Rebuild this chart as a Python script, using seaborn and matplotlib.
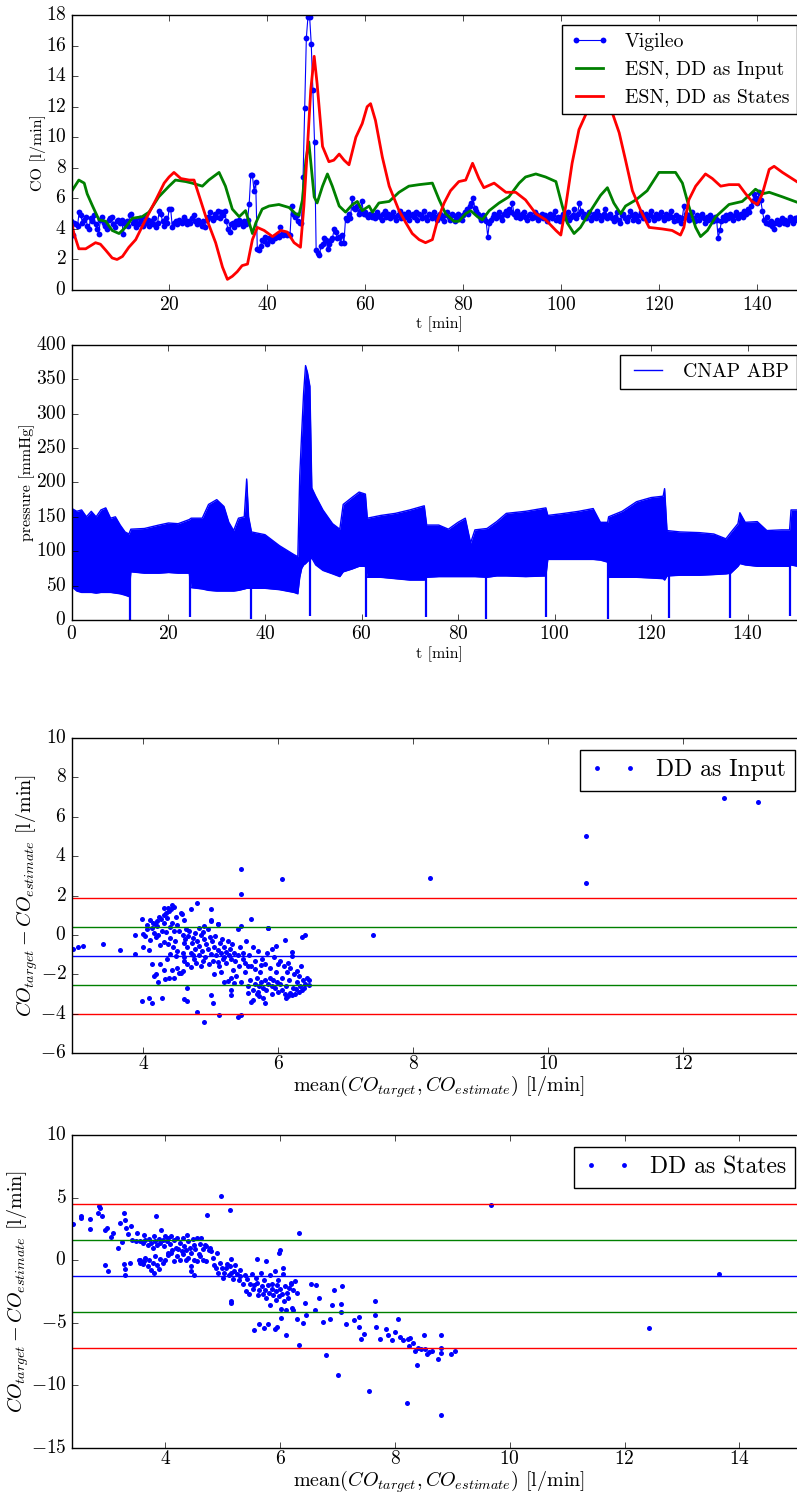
import numpy as np
import matplotlib
matplotlib.use("Agg")
import matplotlib.pyplot as plt
from matplotlib.lines import Line2D
import seaborn as sns

plt.style.use("classic")
plt.rcParams.update({
    "figure.facecolor": "white",
    "savefig.facecolor": "white",
    "font.family": "cmr10",
    "mathtext.fontset": "cm",
    "axes.formatter.use_mathtext": True,
    "xtick.labelsize": 14,
    "ytick.labelsize": 14,
    "legend.numpoints": 2,
})

# ---------------- cardiac output: Vigileo reference (one sample every 20 s) ----------------
VIG_STEP_MIN = 1.0 / 3.0
co_vig = [
    4.5, 3.6, 4.4, 4.3, 4.2, 5.1, 4.9, 4.4, 4.6, 4.8, 4.2, 4.0, 4.7, 4.5, 4.9, 4.3, 4.0, 3.7, 4.6, 4.8, 4.4, 4.2, 4.0, 4.6, 4.7, 4.8, 4.3, 4.1, 4.5, 4.6,
    4.4, 4.6, 3.7, 4.3, 4.5, 4.2, 4.9, 5.0, 4.4, 4.6, 4.1, 4.3, 4.7, 4.5, 4.2, 4.8, 4.4, 4.6, 4.2, 4.5, 4.3, 4.7, 4.1, 4.4, 5.2, 5.0, 4.5, 4.2, 4.7, 4.4,
    5.3, 5.3, 4.1, 4.4, 4.5, 4.3, 4.6, 4.5, 4.4, 4.8, 4.6, 4.3, 4.5, 4.4, 4.7, 4.9, 4.5, 4.3, 4.6, 4.4, 4.2, 4.5, 4.1, 4.6, 4.8, 5.1, 4.7, 4.6, 5.0, 4.8,
    5.2, 4.7, 5.1, 4.9, 5.2, 4.5, 4.0, 3.8, 4.3, 4.4, 4.1, 4.5, 4.3, 4.6, 4.4, 4.2, 4.5, 4.3, 4.6, 5.6, 7.5, 7.5, 6.5, 7.1, 2.7, 2.6, 2.9, 3.3, 3.2, 3.5,
    3.0, 3.4, 3.3, 3.2, 3.5, 3.4, 3.6, 3.5, 4.1, 3.7, 3.6, 3.7, 3.6, 3.7, 3.6, 5.5, 5.0, 4.8, 4.9, 4.5, 4.4, 4.4, 7.4, 11.9, 16.5, 17.9, 17.9, 16.1, 13.1, 9.7,
    2.6, 2.4, 2.3, 2.9, 3.0, 3.4, 3.3, 2.7, 3.0, 3.3, 3.4, 4.0, 3.8, 3.4, 3.5, 3.1, 3.6, 3.1, 4.7, 4.6, 5.0, 4.7, 6.0, 5.4, 5.3, 5.5, 5.0, 5.2, 5.8, 5.0,
    5.1, 4.9, 4.8, 5.0, 4.8, 4.9, 4.7, 5.1, 4.9, 4.8, 4.6, 5.0, 5.2, 4.8, 5.0, 4.7, 4.9, 5.1, 4.8, 4.6, 4.9, 5.2, 4.7, 4.9, 5.0, 4.8, 5.1, 4.6, 4.9, 5.0,
    4.8, 5.1, 4.6, 5.0, 4.9, 4.7, 5.2, 4.8, 4.6, 5.0, 4.9, 4.7, 5.1, 4.8, 4.6, 4.9, 5.0, 4.7, 4.5, 4.9, 5.1, 4.8, 4.6, 5.0, 4.9, 4.5, 4.7, 5.0, 4.8, 4.6,
    4.9, 5.1, 5.3, 5.0, 5.5, 5.7, 6.0, 5.4, 5.2, 5.0, 4.8, 4.6, 4.9, 4.7, 4.5, 3.5, 4.4, 4.6, 4.8, 5.0, 4.7, 4.9, 5.1, 4.8, 4.6, 5.0, 5.2, 4.9, 5.3, 5.1,
    5.7, 5.0, 4.8, 5.2, 4.9, 4.7, 5.0, 5.1, 4.8, 4.6, 4.9, 5.0, 4.7, 4.8, 5.1, 4.9, 4.6, 4.8, 5.0, 4.7, 4.9, 4.5, 4.8, 5.0, 4.7, 4.9, 5.2, 4.6, 4.8, 4.5,
    4.8, 5.0, 4.7, 4.9, 5.1, 4.6, 4.8, 4.9, 5.3, 4.7, 5.0, 5.7, 5.2, 4.8, 5.0, 4.7, 4.9, 5.1, 4.6, 4.8, 5.0, 4.7, 5.2, 4.9, 4.6, 4.8, 5.0, 5.3, 4.7, 4.9,
    5.0, 4.7, 4.5, 4.8, 5.1, 4.6, 4.4, 4.9, 5.0, 4.7, 4.5, 4.8, 5.2, 4.9, 4.6, 5.0, 4.8, 4.5, 4.9, 5.1, 4.7, 4.8, 5.0, 4.6, 4.9, 5.2, 4.8, 4.6, 5.0, 4.7,
    4.9, 5.1, 4.8, 4.6, 5.0, 4.7, 4.9, 5.2, 4.8, 4.5, 4.9, 4.6, 4.8, 4.4, 4.7, 5.5, 5.0, 4.8, 4.6, 4.9, 5.1, 4.7, 4.5, 4.9, 4.6, 4.8, 5.0, 4.7, 4.4, 4.8,
    4.6, 4.9, 4.7, 4.5, 4.8, 4.6, 3.4, 3.9, 4.5, 4.8, 4.6, 4.9, 4.7, 5.0, 4.8, 4.6, 4.9, 5.1, 4.7, 4.9, 5.0, 4.8, 5.2, 5.0, 5.3, 5.1, 5.5, 5.8, 6.3, 6.0,
    5.7, 6.4, 5.9, 5.2, 4.6, 4.4, 4.8, 4.3, 4.5, 4.2, 4.0, 4.4, 4.6, 4.3, 4.5, 4.7, 4.4, 4.6, 4.3, 4.5, 4.8, 4.6, 4.4, 4.7, 4.6, 4.8, 4.5, 4.7, 4.6, 4.7,
]
t_vig = np.arange(len(co_vig)) * VIG_STEP_MIN

# ---------------- ESN estimate, DD as input ----------------
t_esn_in = [0, 1.6, 2.7, 3.3, 4.4, 5.7, 7.1, 8.4, 9.8, 11.1, 12.5, 14.5, 15.9, 17.9, 20, 21.3,
            23.4, 24.7, 26.8, 28.1, 30.2, 31.5, 32.9, 34.3, 35.6, 37, 37.7, 39, 40.4, 42.4,
            44.5, 45.8, 46.5, 47.2, 47.9, 48.5, 49.6, 50.2, 51.3, 52.3, 53.3, 54.7, 56, 57.4,
            58.4, 59.4, 60.8, 61.5, 62.8, 64.9, 66.9, 68.9, 71, 73.7, 75.1, 76.4, 78.1, 79.1,
            80.5, 81.5, 82.9, 83.9, 85.3, 87.3, 89.3, 91.4, 92.7, 94.8, 96.8, 98.9, 100.2,
            101.2, 102.6, 103.9, 106, 108, 109.4, 110.7, 112.1, 113.1, 115.2, 117.5, 119.9,
            122, 123.3, 124.7, 126, 127.4, 128.4, 129.8, 131.5, 134.2, 136.9, 138.3, 139.6,
            141, 142.4, 145.1, 148.5]
co_esn_in = [6.4, 7.2, 7.0, 6.3, 5.5, 4.6, 4.5, 3.9, 3.7, 4.1, 4.7, 4.8, 5.1, 6.1, 6.8, 7.2,
             7.1, 7.0, 6.8, 7.2, 7.7, 6.8, 5.3, 4.8, 5.2, 3.7, 4.4, 5.3, 5.5, 5.6,
             5.4, 5.0, 4.9, 5.9, 8.5, 9.7, 6.1, 5.7, 6.8, 7.6, 6.8, 5.5, 5.1, 5.6,
             5.8, 5.2, 5.5, 5.1, 5.7, 5.8, 6.4, 6.8, 6.9, 7.0, 5.9, 5.0, 4.5, 4.5,
             5.0, 5.2, 4.8, 4.6, 5.2, 5.7, 6.1, 7.0, 7.4, 7.6, 7.4, 7.1, 5.5,
             4.4, 3.7, 4.1, 5.2, 6.2, 6.7, 5.7, 5.0, 5.5, 5.9, 6.5, 7.7,
             7.7, 7.7, 7.0, 5.5, 4.1, 3.5, 3.9, 4.8, 5.6, 5.8, 6.2, 6.6,
             6.3, 6.4, 6.1, 5.7]

# ---------------- ESN estimate, DD as states ----------------
t_esn_st = [0, 0.6, 1.6, 3, 5, 6, 7.1, 8.4, 9.4, 10.5, 11.8, 13.2, 15.2, 17.3, 19, 20, 21,
            22.4, 24.1, 25.1, 25.8, 27.5, 29.5, 30.9, 31.9, 32.9, 33.9, 34.9, 36, 37, 38,
            39.4, 41.1, 42.8, 44.1, 45.5, 46.8, 47.5, 48.2, 48.9, 49.6, 50.2, 51.3, 52.6,
            53.6, 54.7, 55.7, 56.7, 58.1, 59.4, 60.4, 61.1, 62.1, 63.5, 64.9, 66.9, 68.3,
            69.6, 71, 72.3, 73.7, 74.7, 76.1, 77.4, 79.1, 80.5, 81.9, 83.2, 84.2, 86.3,
            88.7, 90.7, 92.7, 94.8, 96.8, 98.9, 99.9, 100.9, 102.2, 103.6, 105, 106.7,
            108.4, 110.4, 111.8, 113.1, 114.5, 116.2, 117.9, 120.6, 122.6, 124.3, 125,
            126, 127.4, 129.4, 130.8, 132.5, 134.2, 136.2, 137.6, 138.9, 140, 141, 142.4,
            143.4, 145.1, 148.5]
co_esn_st = [4.6, 3.7, 2.7, 2.7, 3.1, 3.0, 2.6, 2.1, 2.0, 2.2, 2.8, 3.3, 4.6, 5.9, 7.0, 7.4, 7.7,
             7.3, 7.2, 7.2, 6.5, 4.8, 3.1, 1.5, 0.7, 0.9, 1.2, 1.6, 1.7, 3.3, 4.1,
             3.9, 3.5, 3.9, 3.8, 3.1, 2.8, 5.5, 9.2, 13.1, 15.3, 13.5, 9.4, 8.4,
             8.5, 8.9, 8.5, 8.2, 10.0, 10.9, 12.0, 12.2, 11.1, 8.7, 6.8, 5.2, 4.4,
             3.7, 3.3, 3.1, 3.3, 4.5, 5.7, 6.5, 7.1, 7.2, 8.3, 7.3, 6.7, 7.0,
             6.4, 6.4, 5.9, 5.0, 4.6, 3.9, 3.6, 5.5, 8.3, 10.5, 11.5, 12.1,
             12.4, 11.6, 10.3, 8.5, 6.5, 5.2, 4.1, 4.0, 3.9, 3.6, 4.1,
             5.9, 6.8, 7.6, 7.3, 6.8, 6.9, 6.9, 6.3, 5.8, 5.6, 6.3, 7.9,
             8.1, 7.7, 7.0]

# ---------------- CNAP arterial blood pressure: systolic / diastolic envelope ----------------
t_abp = [0, 1, 2, 3, 4, 5, 6, 7, 8, 9, 10, 11, 11.8, 12.2, 15, 18, 20, 22, 24.3, 24.7, 27,
         28.3, 30, 31.5, 32.5, 33.5, 34.5, 35.7, 36.2, 36.6, 37.2, 40, 43, 46, 46.8, 47.2,
         47.6, 48, 48.4, 48.8, 49.3, 49.7, 50.5, 52, 54, 55.5, 56.2, 58, 59.5, 60.8, 61.2,
         64, 67, 70, 73, 73.5, 76, 78, 80, 81.5, 82.6, 83.5, 86, 88, 90, 94, 98.2, 98.6,
         102, 105, 108, 109.5, 111, 111.2, 114, 117, 120, 122.5, 122.8, 123.3, 126, 130,
         133, 135.5, 136.5, 138, 138.4, 139.5, 142, 144, 147, 148.7, 149, 152.3]
sys_abp = [162, 158, 160, 150, 158, 150, 160, 163, 148, 150, 138, 128, 125, 132, 133, 138, 141, 140, 146, 148, 148,
           168, 175, 165, 142, 130, 148, 150, 205, 150, 128, 124, 108, 95, 92, 210,
           272, 330, 370, 360, 340, 192, 180, 160, 140, 132, 168, 178, 186, 183, 148,
           152, 155, 160, 166, 138, 138, 132, 142, 148, 112, 131, 133, 143, 155, 158, 163, 152,
           155, 158, 162, 142, 142, 150, 158, 172, 178, 180, 191, 130, 128, 127,
           125, 118, 127, 140, 156, 142, 143, 130, 131, 131, 160, 160]
dia_abp = [48, 42, 40, 40, 40, 39, 40, 40, 40, 39, 38, 36, 34, 70, 68, 68, 69, 68, 68, 47, 45,
           43, 42, 42, 42, 42, 43, 45, 46, 46, 46, 46, 44, 40, 38, 62,
           75, 80, 82, 85, 88, 90, 80, 72, 67, 63, 70, 74, 78, 78, 62,
           62, 60, 58, 58, 62, 63, 63, 63, 63, 63, 63, 62, 64, 64, 63, 64, 88,
           88, 88, 88, 87, 84, 62, 62, 62, 61, 60, 58, 64, 65, 65,
           66, 67, 68, 78, 82, 80, 78, 78, 78, 78, 80, 75]
# cuff calibration drop-outs
t_cal = [12.0, 24.5, 37.0, 49.3, 61.0, 73.3, 85.8, 98.3, 111.0, 123.7, 136.3, 148.8]
p_cal = [0, 4, 2, 6, 4, 4, 2, 4, 2, 3, 3, 5]

# ---------------- Bland-Altman: ESN with DD as input ----------------
pairs_input = [
    (2.95, -0.7), (3.03, -0.62), (3.1, -0.57), (3.4, -0.45), (3.65, -0.75), (3.88, 0.02), (3.88, -0.95),
    (3.98, -3.35), (4.08, -3.2), (4.12, -3.45), (4.28, -3.2),
    (3.98, 0.8), (4.0, -0.6), (4.0, 0.05), (4.03, -0.05), (4.05, 0.5), (4.06, 0.3), (4.08, -0.75), (4.1, 0.75),
    (4.1, -0.25), (4.12, 0.35), (4.14, 0.6), (4.15, 0.1), (4.17, 0.55), (4.18, -0.1), (4.2, 0.7), (4.2, 0.45),
    (4.22, 0.0), (4.23, 0.9), (4.25, -0.5), (4.26, 0.8), (4.28, 0.2), (4.3, 1.0), (4.3, 0.6), (4.31, -0.35),
    (4.33, 1.1), (4.34, 0.15), (4.35, 0.85), (4.36, -0.45), (4.38, 1.2), (4.4, 0.4), (4.4, -0.15), (4.41, 1.3),
    (4.43, 0.6), (4.44, -0.6), (4.45, 1.4), (4.46, 0.2), (4.47, -0.3), (4.48, 0.9), (4.5, 0.5), (4.5, -0.8),
    (4.31, 1.38), (4.36, 1.35), (4.42, 1.5),
    (4.12, -1.5), (4.15, -2.1), (4.18, -2.0), (4.22, -2.4), (4.3, -1.8), (4.32, -2.25), (4.38, -2.2), (4.42, -1.8),
    (4.45, -2.2), (4.5, -1.7), (4.52, -1.95), (4.55, -1.95), (4.58, -1.85), (4.6, -1.1), (4.48, -1.05),
    (4.4, -0.95), (4.35, -1.2), (4.25, -1.5),
    (4.52, 0.2), (4.55, 1.1), (4.57, 1.05), (4.58, 0.0), (4.6, -0.4), (4.6, 0.75), (4.62, -0.2), (4.63, 0.3),
    (4.65, -0.6), (4.66, -0.05), (4.68, 0.2), (4.7, -0.9), (4.7, 1.3), (4.72, -0.4), (4.73, -0.15), (4.75, -1.2),
    (4.76, -0.7), (4.77, 0.1), (4.78, -1.4), (4.8, -0.3), (4.8, 1.6), (4.82, -1.0), (4.83, -0.55), (4.85, -1.6),
    (4.85, 0.0), (4.87, -0.8), (4.88, -1.3), (4.9, -0.2), (4.9, 0.45), (4.92, -1.1), (4.93, -0.45), (4.95, -0.7),
    (4.95, 0.3), (4.97, -1.5), (4.98, -0.1), (5.0, 0.7), (5.0, -0.95), (5.0, 1.3), (4.65, -1.5), (4.7, -1.65),
    (4.74, -1.0), (4.6, -1.3), (4.58, -0.9), (4.83, 0.35), (4.88, 0.15),
    (5.02, -0.3), (5.03, -1.3), (5.05, -0.6), (5.06, -0.05), (5.08, -1.0), (5.1, 0.55), (5.1, -0.75), (5.12, -1.6),
    (5.13, -0.4), (5.15, -0.9), (5.16, -0.2), (5.18, -1.2), (5.2, -0.6), (5.2, -2.4), (5.22, -0.85), (5.23, -1.45),
    (5.25, -0.3), (5.25, -2.35), (5.27, -1.0), (5.28, -0.7), (5.3, -1.2), (5.3, -2.2), (5.32, -0.45), (5.33, -1.8),
    (5.35, -0.9), (5.36, -1.3), (5.38, -2.1), (5.4, -1.0), (5.4, 0.3), (5.42, -1.6), (5.43, -0.6), (5.45, -2.4),
    (5.45, 0.45), (5.47, -1.2), (5.48, -0.9), (5.5, -1.9), (5.5, -1.4), (5.05, -2.0), (5.15, -1.9), (5.35, -2.45),
    (5.1, -1.35), (5.2, -1.1),
    (5.52, -0.3), (5.55, -2.6), (5.56, -1.0), (5.58, -2.3), (5.6, -1.6), (5.6, 0.8), (5.62, -2.8), (5.63, -0.6),
    (5.65, -2.5), (5.66, -1.3), (5.68, -2.2), (5.7, -2.9), (5.7, -0.8), (5.72, -2.6), (5.73, -1.9), (5.75, -2.4),
    (5.76, -1.2), (5.78, -2.7), (5.8, -2.3), (5.8, -1.5), (5.82, -2.8), (5.83, -0.9), (5.85, -2.5), (5.85, 0.35),
    (5.87, -2.2), (5.88, -1.7), (5.9, -2.6), (5.9, -0.7), (5.92, -2.3), (5.93, -1.1), (5.95, -2.7), (5.96, -0.55),
    (5.97, -1.9), (5.98, -2.4), (6.0, -1.5), (6.0, -2.9), (5.55, -1.6), (5.65, -1.75), (5.75, -1.55), (5.68, -3.0),
    (5.72, -3.1), (5.78, -3.2), (5.62, -3.3),
    (6.02, -2.5), (6.03, -1.3), (6.05, -2.8), (6.06, -2.2), (6.08, -1.6), (6.1, -3.0), (6.1, -0.25), (6.12, -2.6),
    (6.13, -1.9), (6.15, -3.1), (6.16, -2.3), (6.18, -1.7), (6.2, -3.05), (6.2, -0.85), (6.2, -1.05), (6.22, -2.7),
    (6.24, -2.0), (6.25, -3.0), (6.27, -2.4), (6.28, -1.85), (6.3, -2.9), (6.3, -2.1), (6.32, -2.6), (6.34, -1.6),
    (6.35, -2.8), (6.35, -0.1), (6.37, -2.3), (6.38, -2.7), (6.4, 0.0), (6.4, -2.5), (6.42, -2.2), (6.45, -2.3),
    (6.46, -2.55), (6.12, -3.2), (6.18, -2.95), (6.26, -2.75), (6.14, -1.45),
    (4.6, -3.25), (4.65, -3.35), (4.65, -2.7), (4.8, -3.9), (4.9, -4.4), (5.0, -3.05), (5.03, -3.45), (5.12, -4.05),
    (5.3, -2.8), (5.3, -3.05), (5.4, -4.15), (5.45, -4.05), (5.55, -2.95), (5.6, -3.4), (5.8, -3.45), (5.9, -3.0),
    (5.45, 3.35), (5.45, 2.1), (6.05, 2.85), (5.0, 0.75), (5.1, 0.55), (5.85, 0.35),
    (7.4, 0.0), (8.25, 2.87), (10.57, 5.05), (10.57, 2.65), (12.61, 6.95), (13.12, 6.73),
]
bias_input, sd_input = -1.06, 1.47

# ---------------- Bland-Altman: ESN with DD as states ----------------
pairs_states = [
    (2.38, 2.86), (2.52, 3.55), (2.53, 3.35), (2.68, 3.3), (2.68, 2.5), (2.82, 3.8), (2.84, 4.3), (2.86, 4.15),
    (2.9, 3.5), (2.94, 2.4), (2.98, 2.6), (2.95, -0.4), (3.0, -0.85), (3.05, 1.85), (3.08, 2.2), (3.18, 1.0),
    (3.2, 2.95), (3.24, 1.45), (3.28, 3.8), (3.3, 3.2), (3.32, 2.6), (3.28, -0.3), (3.3, -0.7), (3.3, -1.2),
    (3.35, 2.1), (3.4, 2.7), (3.38, -0.2), (3.42, 1.6), (3.48, 1.5), (3.5, 2.2), (3.55, -0.2), (3.54, 0.05),
    (3.55, 1.5), (3.6, 1.4), (3.62, 2.0), (3.65, 1.6), (3.7, 1.2), (3.72, 1.7), (3.75, 1.4), (3.78, 1.0),
    (3.8, 1.9), (3.82, 1.5), (3.85, 1.2), (3.84, 3.5), (3.88, 1.7), (3.9, 1.4), (3.92, 2.4), (3.95, 1.6),
    (3.98, 1.1), (4.0, 1.9), (4.02, 1.5), (4.05, 0.6), (4.05, 1.8), (4.08, 1.3), (4.1, 1.9), (4.12, 0.8),
    (4.15, 1.6), (4.18, 1.0), (4.2, 1.75), (4.22, 0.9), (4.25, 1.4), (4.28, 0.7), (4.3, 1.8), (4.32, 1.1),
    (4.35, 0.8), (4.38, 2.0), (4.4, 1.5), (4.42, 1.0), (4.45, 0.6), (4.48, 1.7), (4.5, 1.2), (4.52, 0.9),
    (4.55, 1.8), (4.58, 0.5), (4.6, 1.3), (4.62, 1.8), (4.65, 0.9), (4.68, 1.2), (4.7, 1.1), (4.72, 3.57),
    (4.75, 0.8), (4.78, 1.0), (4.8, 0.7),
    (3.55, 0.0), (3.6, -0.3), (3.62, -0.1), (3.65, 0.2), (3.7, -0.5), (3.72, 0.0), (3.75, -0.8), (3.78, -0.2),
    (3.8, -1.0), (3.82, 0.3), (3.85, -0.4), (3.88, -0.7), (3.9, 0.1), (3.95, -0.2), (4.0, 0.0), (4.05, 0.4),
    (4.1, 0.6), (4.15, -0.1), (4.2, 0.3), (4.25, 0.0), (4.3, 0.5), (4.35, 0.0), (4.4, 0.2), (4.45, -0.5),
    (4.45, -0.9), (4.5, -1.2), (4.5, 0.0), (4.55, -0.1), (4.6, 0.3), (4.65, 0.0), (4.7, -0.1),
    (4.82, 0.2), (4.85, -0.4), (4.88, -0.6), (4.9, 0.6), (4.92, -1.0), (4.95, -0.2), (4.98, -0.6), (5.0, -1.4),
    (5.02, -1.0), (5.05, -0.6), (5.08, -0.3), (5.1, -1.2), (5.12, -0.5), (5.15, -1.0), (5.15, 0.1), (5.18, -1.5),
    (5.2, -0.9), (5.22, -0.4), (5.25, -1.1), (5.28, -1.6), (5.3, -1.3), (5.3, -0.8), (5.35, -1.9), (5.38, -1.2),
    (5.4, -2.5), (5.42, -1.5), (5.45, -2.7), (5.48, -1.9), (5.5, -1.1), (5.52, -2.3), (5.55, -2.0), (5.58, -1.4),
    (4.96, 5.1), (5.13, 4.0), (5.15, -3.4), (5.15, -3.3),
    (5.55, -5.6), (5.6, -1.8), (5.62, -2.8), (5.63, -2.4), (5.6, 0.1), (5.66, -1.0), (5.68, -2.1), (5.7, -2.7),
    (5.63, -5.1), (5.72, -1.6), (5.74, -2.4), (5.75, -0.1), (5.76, -3.0), (5.78, -2.0), (5.8, -2.6), (5.72, -5.4),
    (5.82, -1.2), (5.83, -3.6), (5.85, -2.3), (5.86, -1.9), (5.88, -2.8), (5.9, -0.9), (5.78, -5.1), (5.92, -2.5),
    (5.93, -3.2), (5.95, -2.0), (5.96, -1.6), (5.98, -2.9), (6.0, -2.3), (6.0, 0.8), (5.98, 0.6), (6.02, -3.9),
    (6.03, -2.7), (6.05, -1.1), (6.06, -3.3), (6.08, -2.1), (6.1, -4.0), (6.12, -2.6), (6.13, -3.0), (6.15, -2.2),
    (6.18, -1.9), (6.2, -3.8), (6.22, -2.4), (6.1, -6.0), (6.01, -4.6), (6.22, -4.0), (5.94, -5.3), (5.9, -5.5),
    (6.04, -0.6),
    (6.25, -1.7), (6.19, -1.8), (6.3, -2.6), (6.33, 2.2), (6.3, -4.7), (6.33, -6.8), (6.39, -5.0), (6.45, -4.4),
    (6.43, -3.4), (6.54, -1.9), (6.62, -2.0), (6.68, -3.0), (6.6, -4.0), (6.74, -4.9), (6.86, -4.7), (6.8, -7.6),
    (6.9, -3.6), (6.93, -2.4), (7.0, -9.2), (7.06, -3.5), (7.06, -4.1), (7.08, -2.1), (7.15, -5.1),
    (7.28, -4.8), (7.38, -4.55), (7.38, -5.3), (7.41, -6.3), (7.46, -5.9), (7.55, -10.45), (7.65, -3.3),
    (7.65, -4.4), (7.67, -5.3), (7.73, -6.3), (7.85, -5.5), (7.88, -6.0), (7.94, -6.4), (8.05, -4.7), (8.0, -5.7),
    (8.08, -6.1), (8.14, -6.4), (8.23, -6.3), (8.24, -6.85), (8.27, -6.2), (8.31, -6.6), (8.34, -7.25),
    (8.39, -8.4), (8.4, -7.0), (8.46, -7.06), (8.51, -6.0), (8.53, -7.06), (8.55, -7.46), (8.6, -7.3),
    (8.64, -7.25), (8.75, -7.9), (8.8, -6.0), (8.8, -7.0), (8.8, -7.4), (8.98, -7.5), (9.04, -7.25),
    (8.21, -11.4), (8.81, -12.4),
    (9.67, 4.44), (12.42, -5.42), (13.65, -1.08),
]
bias_states, sd_states = -1.29, 2.88

mean_in, diff_in = np.array(pairs_input).T
mean_st, diff_st = np.array(pairs_states).T

# ---------------- figure ----------------
fig = plt.figure(figsize=(7.97, 14.92), dpi=100)
ax1 = fig.add_axes([0.0903, 0.8056, 0.9222, 0.1843])
ax2 = fig.add_axes([0.0903, 0.5845, 0.9222, 0.1843])
ax3 = fig.add_axes([0.0903, 0.2942, 0.9222, 0.2111])
ax4 = fig.add_axes([0.0903, 0.0295, 0.9222, 0.2098])

BLUE, GREEN, RED = (0, 0, 1), (0, 0.5, 0), (1, 0, 0)

# CO time series
sns.lineplot(x=t_vig, y=co_vig, ax=ax1, color=BLUE, lw=0.8, marker="o", markersize=4.2,
             markerfacecolor=BLUE, markeredgecolor=BLUE, markeredgewidth=0,
             estimator=None, sort=False)
sns.lineplot(x=t_esn_in, y=co_esn_in, ax=ax1, color=GREEN, lw=2, estimator=None, sort=False)
sns.lineplot(x=t_esn_st, y=co_esn_st, ax=ax1, color=RED, lw=2, estimator=None, sort=False)
h1 = [Line2D([], [], color=BLUE, lw=0.8, marker="o", markersize=4.2, markeredgewidth=0),
      Line2D([], [], color=GREEN, lw=2), Line2D([], [], color=RED, lw=2)]
ax1.legend(h1, ["Vigileo", "ESN, DD as Input", "ESN, DD as States"], loc="upper right",
           fontsize=14.2)
ax1.set_xlim(0.2, 150.1)
ax1.set_ylim(0, 18)
ax1.set_xticks(np.arange(20, 141, 20))
ax1.set_yticks(np.arange(0, 19, 2))
ax1.set_xlabel("t [min]", fontsize=11.5, labelpad=2)
ax1.set_ylabel("CO [l/min]", fontsize=11.5, labelpad=0)

# Arterial pressure
ax2.fill_between(t_abp, dia_abp, sys_abp, color=BLUE, lw=0)
sns.lineplot(x=t_abp, y=sys_abp, ax=ax2, color=BLUE, lw=1, estimator=None, sort=False)
sns.lineplot(x=t_abp, y=dia_abp, ax=ax2, color=BLUE, lw=1, estimator=None, sort=False)
ax2.vlines(t_cal, p_cal, 90, color=BLUE, lw=1.6)
ax2.legend([Line2D([], [], color=BLUE, lw=1)], ["CNAP ABP"], loc="upper right", fontsize=14.2)
ax2.set_xlim(0, 152.3)
ax2.set_ylim(0, 400)
ax2.set_xticks(np.arange(0, 141, 20))
ax2.set_yticks(np.arange(0, 401, 50))
ax2.set_xlabel("t [min]", fontsize=11.5, labelpad=2)
ax2.set_ylabel("pressure [mmHg]", fontsize=11.5, labelpad=1)

# Bland-Altman plots
ba_levels = [2, 1, 0, -1, -2]
ba_colors = [RED, GREEN, BLUE, GREEN, RED]
xlab = r"mean$(CO_{target}, CO_{estimate})$ [l/min]"
ylab = r"$CO_{target} - CO_{estimate}$ [l/min]"
for ax, mx, dy, bias, sd, name, xlim, ylim, ystep in [
        (ax3, mean_in, diff_in, bias_input, sd_input, "DD as Input", (2.94, 13.84), (-6, 10), 2),
        (ax4, mean_st, diff_st, bias_states, sd_states, "DD as States", (2.37, 15.18), (-15, 10), 5)]:
    sns.scatterplot(x=mx, y=dy, ax=ax, color=BLUE, marker="o", s=13, linewidth=0, legend=False)
    for k, c in zip(ba_levels, ba_colors):
        ax.axhline(bias + k * sd, color=c, lw=1)
    ax.legend([Line2D([], [], ls="none", color=BLUE, marker="o", markersize=3.5, markeredgewidth=0)],
              [name], loc="upper right", fontsize=17)
    ax.set_xlim(*xlim)
    ax.set_ylim(*ylim)
    ax.set_xticks(np.arange(4, xlim[1], 2))
    ax.set_yticks(np.arange(ylim[0], ylim[1] + 0.1, ystep))
    ax.tick_params(axis="x", pad=1.5)
    ax.set_xlabel(xlab, fontsize=14.5, labelpad=0)
    ax.set_ylabel(ylab, fontsize=14.5, labelpad=0)

fig.savefig("out.png", dpi=100)
